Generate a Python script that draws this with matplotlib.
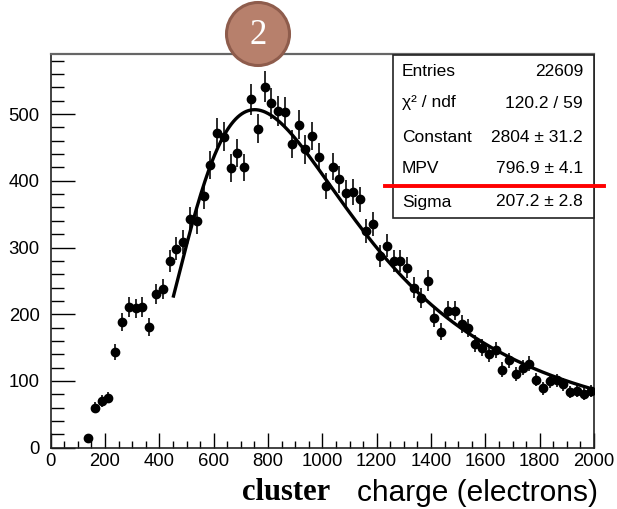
import numpy as np
import matplotlib
matplotlib.use("Agg")
import matplotlib.pyplot as plt
from matplotlib.patches import Ellipse, Rectangle
from matplotlib.lines import Line2D
from matplotlib.ticker import MultipleLocator

# ---- data ----
bin_centers = [137.5, 162.5, 187.5, 212.5, 237.5, 262.5, 287.5, 312.5, 337.5, 362.5,
               387.5, 412.5, 437.5, 462.5, 487.5, 512.5, 537.5, 562.5, 587.5, 612.5,
               637.5, 662.5, 687.5, 712.5, 737.5, 762.5, 787.5, 812.5, 837.5, 862.5,
               887.5, 912.5, 937.5, 962.5, 987.5, 1012.5, 1037.5, 1062.5, 1087.5, 1112.5,
               1137.5, 1162.5, 1187.5, 1212.5, 1237.5, 1262.5, 1287.5, 1312.5, 1337.5, 1362.5,
               1387.5, 1412.5, 1437.5, 1462.5, 1487.5, 1512.5, 1537.5, 1562.5, 1587.5, 1612.5,
               1637.5, 1662.5, 1687.5, 1712.5, 1737.5, 1762.5, 1787.5, 1812.5, 1837.5, 1862.5,
               1887.5, 1912.5, 1937.5, 1962.5, 1987.5]
counts = [15, 60, 70, 75, 143, 188, 211, 209, 211, 181,
          230, 238, 280, 298, 308, 342, 339, 377, 424, 472,
          466, 419, 442, 420, 522, 478, 541, 516, 504, 503,
          455, 484, 447, 467, 436, 392, 421, 402, 382, 383,
          372, 325, 335, 287, 303, 280, 280, 270, 240, 225,
          250, 195, 174, 205, 205, 185, 180, 156, 150, 140,
          146, 117, 131, 111, 120, 126, 102, 89, 100, 101,
          95, 84, 85, 81, 85]

fit_constant = 2804.0
fit_mpv = 796.9
fit_sigma = 207.2
fit_range = [452.0, 2000.0]

stat_labels = ["Entries", "χ² / ndf", "Constant", "MPV", "Sigma"]
stat_values = ["22609", "120.2 / 59", "2804 ± 31.2", "796.9 ± 4.1", "207.2 ± 2.8"]

x_ticks = [0, 200, 400, 600, 800, 1000, 1200, 1400, 1600, 1800, 2000]
y_ticks = [0, 100, 200, 300, 400, 500]


def landau_pdf(lam):
    t = np.linspace(1e-9, 40.0, 20001)
    out = np.empty_like(lam)
    for i, l in enumerate(lam):
        f = np.exp(-t * np.log(t) - l * t) * np.sin(np.pi * t)
        out[i] = np.trapezoid(f, t) / np.pi
    return out


W, H = 617, 509
fig = plt.figure(figsize=(W / 100, H / 100), dpi=100)
fig.patch.set_facecolor("white")

def fx(px):
    return px / W

def fy(py):
    return 1 - py / H

ax_l, ax_r, ax_t, ax_b = 50.7, 594.0, 54.0, 447.7
ax = fig.add_axes([fx(ax_l), fy(ax_b), fx(ax_r - ax_l), (ax_b - ax_t) / H])
ax.set_xlim(0, 2000)
ax.set_ylim(0, 590)

x = np.array(bin_centers)
y = np.array(counts, dtype=float)
err = np.sqrt(y)
ax.errorbar(x, y, yerr=err, fmt="o", color="black", ms=6.0, elinewidth=1.3,
            ecolor="#1a1a1a", capsize=0, zorder=3)

xf = np.linspace(fit_range[0], fit_range[1], 400)
yf = fit_constant * landau_pdf((xf - fit_mpv) / fit_sigma)
ax.plot(xf, yf, color="black", lw=2.4, zorder=4)

font = "Liberation Sans"
ax.set_xticks(x_ticks)
ax.set_yticks(y_ticks)
ax.set_xticklabels([str(v) for v in x_ticks], fontsize=13.3, family=font)
ax.set_yticklabels([str(v) for v in y_ticks], fontsize=13.3, family=font)
ax.xaxis.set_minor_locator(MultipleLocator(50))
ax.yaxis.set_minor_locator(MultipleLocator(20))
ax.tick_params(axis="x", which="major", direction="in", length=11, width=1, pad=4)
ax.tick_params(axis="x", which="minor", direction="in", length=5, width=1)
ax.tick_params(axis="y", which="major", direction="in", length=17, width=1, pad=8)
ax.tick_params(axis="y", which="minor", direction="in", length=9, width=1)
for s in ["left", "bottom", "right"]:
    ax.spines[s].set_color("#222222")
    ax.spines[s].set_linewidth(1.2)
ax.spines["top"].set_color("#666666")
ax.spines["top"].set_linewidth(1.6)

# stats box
bx0, bx1, by0, by1 = 393, 594, 55, 218
fig.add_artist(Rectangle((fx(bx0), fy(by1)), fx(bx1 - bx0), (by1 - by0) / H,
                         transform=fig.transFigure, facecolor="white",
                         edgecolor="#222222", lw=1.2, zorder=5))
row_y = [71, 103, 137, 169, 202]
for lab, val, ry in zip(stat_labels, stat_values, row_y):
    fig.text(fx(402), fy(ry), lab, fontsize=12.5, family=font, ha="left",
             va="center", zorder=6)
    fig.text(fx(583), fy(ry), val, fontsize=12.5, family=font, ha="right",
             va="center", zorder=6)

# red line
fig.add_artist(Line2D([fx(385), fx(604)], [fy(186.3), fy(186.3)],
                      transform=fig.transFigure, color="#ff0000", lw=2.8, zorder=7))

# axis title
fig.text(fx(598), fy(493), "charge (electrons)", fontsize=21.5, family=font,
         ha="right", va="center")
fig.text(fx(286), fy(492), "cluster", fontsize=22, family="Liberation Serif",
         weight="bold", ha="center", va="center")

# numbered circle
fig.add_artist(Ellipse((fx(258), fy(34)), 63 / W, 63 / H, transform=fig.transFigure,
                       facecolor="#b7806c", edgecolor="#8e5c4c", lw=2.2, zorder=8))
fig.text(fx(258), fy(35), "2", fontsize=25, family="Liberation Serif", color="white",
         ha="center", va="center", zorder=9)

fig.savefig("out.png", dpi=100)
